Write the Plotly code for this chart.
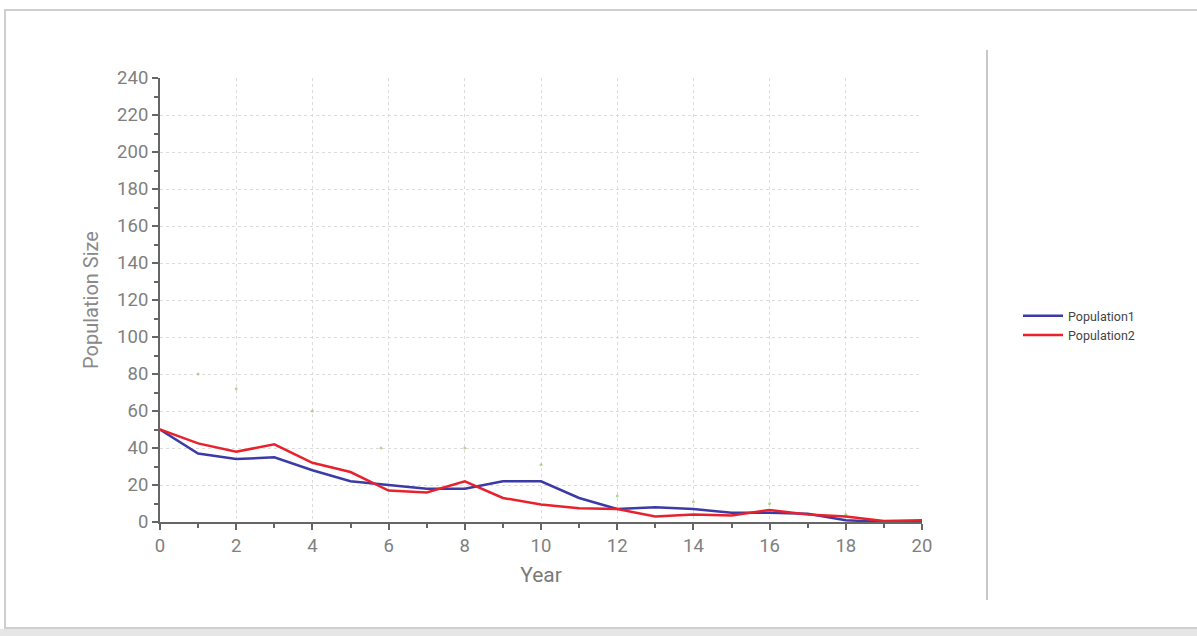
import plotly.graph_objects as go

years = list(range(0, 21))
population1 = [50, 37, 34, 35, 28, 22, 20, 18, 18, 22, 22, 13, 7, 8, 7, 5, 5, 4.5, 1, 0, 0]
population2 = [50, 42.5, 38, 42, 32, 27, 17, 16, 22, 13, 9.5, 7.5, 7, 3, 4, 3.5, 6.5, 4, 3, 0.5, 1]
dot_years = [1, 2, 4, 5.8, 8, 10, 12, 14, 16, 18]
dot_values = [80, 72, 60, 40, 40, 31, 14, 11, 10, 4]

W, H = 1197, 636
L, R, T, B = 160, 275, 78, 114
pw, ph = W - L - R, H - T - B

def px(x):
    return (x - L) / pw

def py(y):
    return (H - B - y) / ph

fig = go.Figure()
fig.add_trace(go.Scatter(x=dot_years, y=dot_values, mode="markers",
                         marker=dict(size=3, color="rgba(150,200,90,0.7)"),
                         showlegend=False, hoverinfo="skip"))
fig.add_trace(go.Scatter(x=years, y=population1, mode="lines", name="Population1",
                         line=dict(color="#3b3aa6", width=2.5)))
fig.add_trace(go.Scatter(x=years, y=population2, mode="lines", name="Population2",
                         line=dict(color="#e8222c", width=2.5)))

axis_common = dict(
    showline=True, linecolor="#666", linewidth=2,
    ticks="outside", tickcolor="#666", ticklen=6, tickwidth=2,
    showgrid=True, gridcolor="#dcdcdc", griddash="dot", gridwidth=1,
    zeroline=False,
    tickfont=dict(family="Roboto, Arial", size=18.5, color="#808080"),
)

fig.update_xaxes(range=[0, 20], dtick=2, tick0=0,
                 minor=dict(dtick=1, ticks="outside", ticklen=4, tickcolor="#666", tickwidth=2, showgrid=False),
                 title=dict(text="Year", font=dict(family="Roboto, Arial", size=21, color="#7a7a7a"), standoff=11),
                 **axis_common)
fig.update_yaxes(range=[0, 240], dtick=20, tick0=0,
                 minor=dict(dtick=10, ticks="outside", ticklen=4, tickcolor="#666", tickwidth=2, showgrid=False),
                 title=dict(text="Population Size", font=dict(family="Roboto, Arial", size=20, color="#8a8a8a"), standoff=13),
                 **axis_common)

shapes = [
    # outer frame
    dict(type="rect", xref="paper", yref="paper",
         x0=px(5), x1=px(1205), y0=py(628), y1=py(10),
         line=dict(color="#cfcfcf", width=2), fillcolor="rgba(0,0,0,0)", layer="below"),
    # bottom shadow band
    dict(type="rect", xref="paper", yref="paper",
         x0=px(0), x1=px(1205), y0=py(640), y1=py(629),
         line=dict(width=0), fillcolor="#e6e6e6", layer="below"),
    # separator line
    dict(type="line", xref="paper", yref="paper",
         x0=px(987), x1=px(987), y0=py(600), y1=py(50),
         line=dict(color="#c8c8c8", width=2)),
]

fig.update_layout(
    width=W, height=H,
    margin=dict(l=L, r=R, t=T, b=B),
    paper_bgcolor="white", plot_bgcolor="white",
    font=dict(family="Roboto, Arial"),
    shapes=shapes,
    legend=dict(x=px(1018), y=py(301), xanchor="left", yanchor="top",
                font=dict(family="Roboto, Arial", size=12.5, color="#444"),
                tracegroupgap=0, itemwidth=40, bgcolor="rgba(0,0,0,0)"),
)

fig.write_html("out.html", config={"displayModeBar": False},
               post_script="document.body.style.margin='0';")
